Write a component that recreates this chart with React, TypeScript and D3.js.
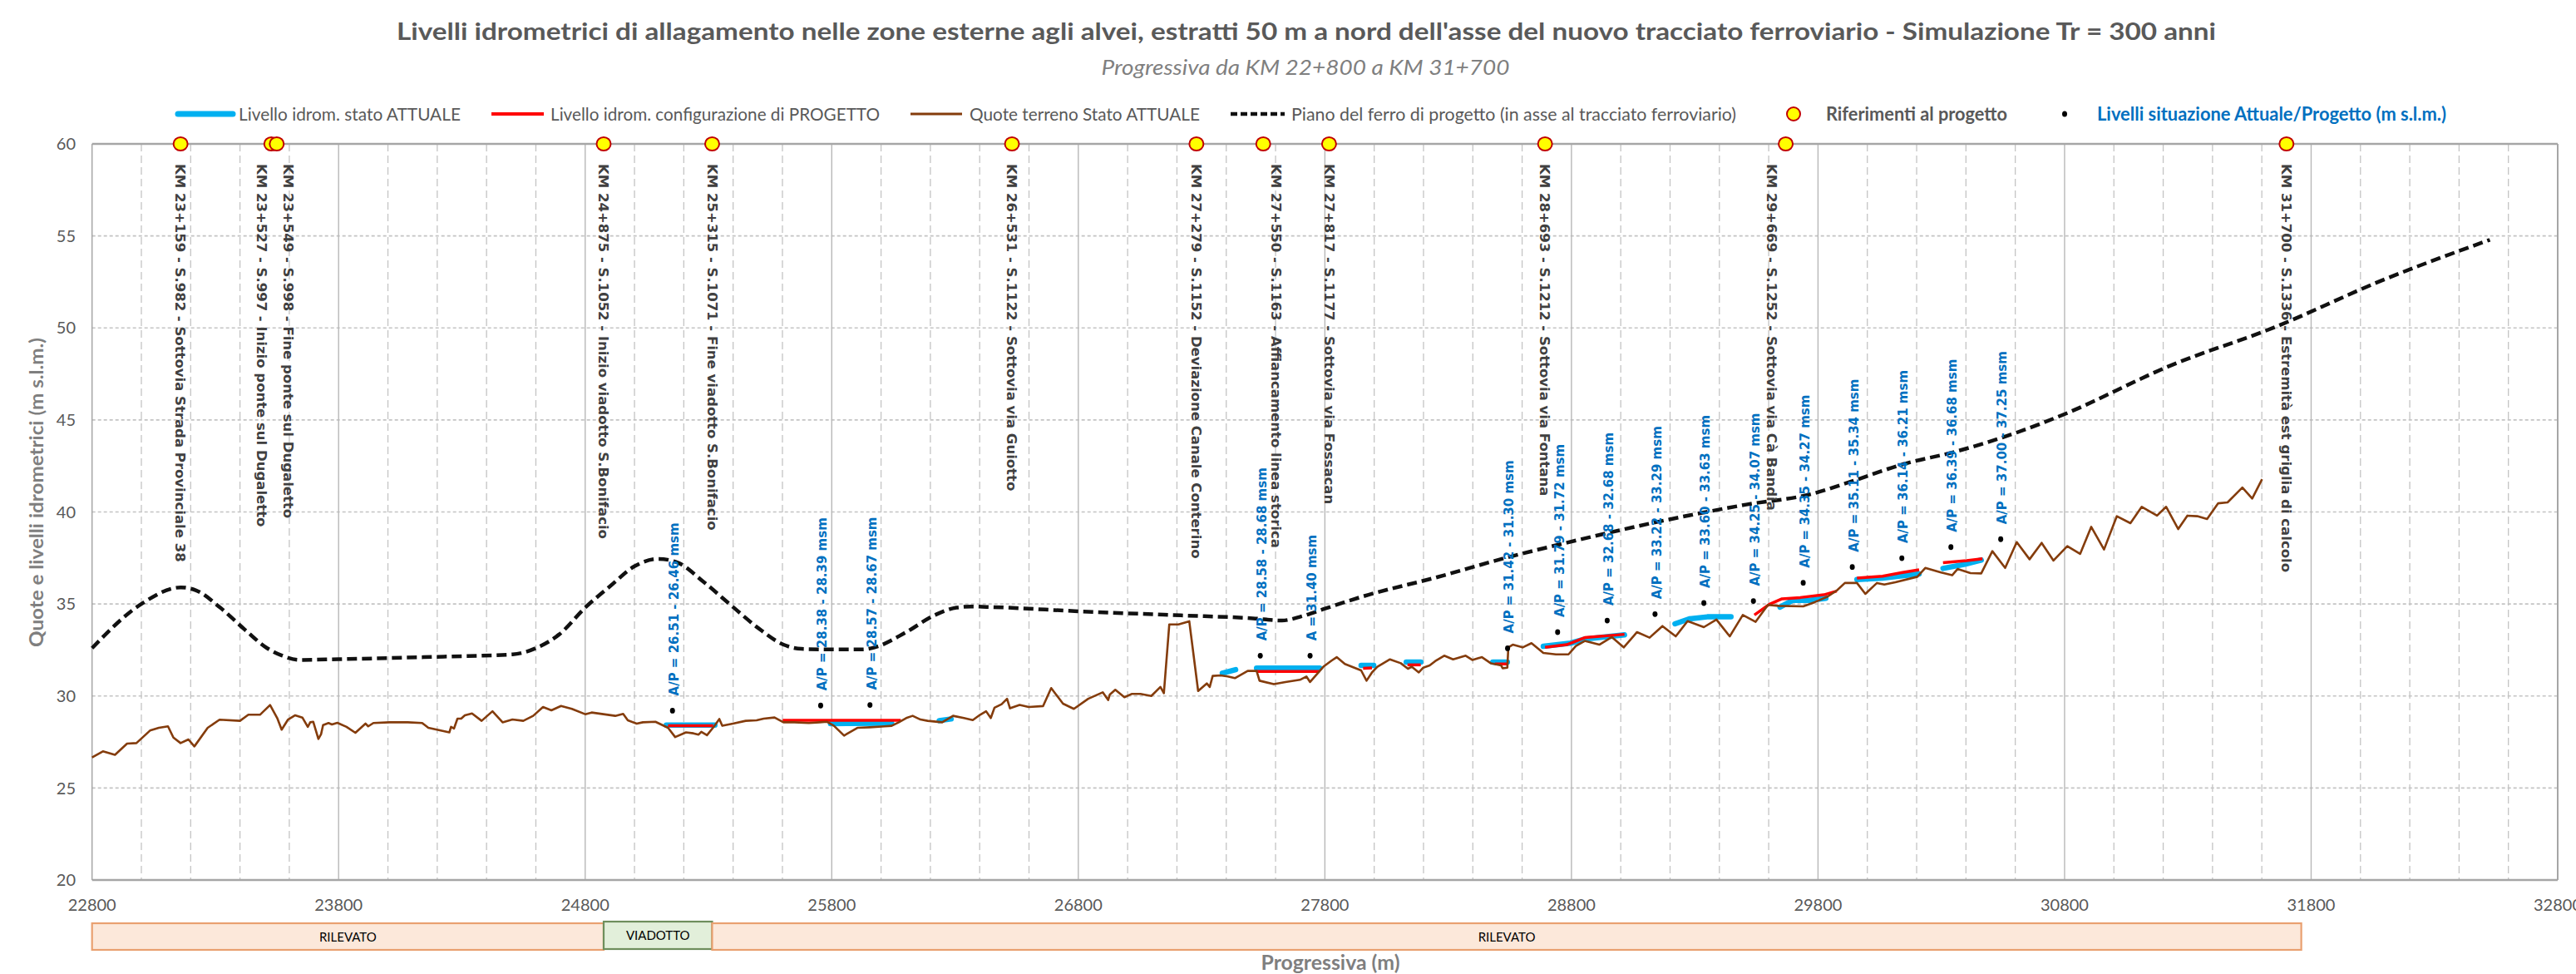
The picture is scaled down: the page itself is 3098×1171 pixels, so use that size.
import React from 'react';
import * as d3 from 'd3';

const W = 3098;
const H = 1171;
const PLOT = { left: 110.7, right: 3076, top: 173, bottom: 1058 };

const titleText =
  "Livelli idrometrici di allagamento nelle zone esterne agli alvei, estratti 50 m a nord dell'asse del nuovo tracciato ferroviario - Simulazione Tr = 300 anni";
const subtitleText = 'Progressiva da KM 22+800 a KM 31+700';
const yAxisTitle = 'Quote e livelli idrometrici (m s.l.m.)';
const xAxisTitle = 'Progressiva (m)';

const xDomain: [number, number] = [22800, 32800];
const yDomain: [number, number] = [20, 60];
const xTicks = [22800, 23800, 24800, 25800, 26800, 27800, 28800, 29800, 30800, 31800, 32800];
const yTicks = [20, 25, 30, 35, 40, 45, 50, 55, 60];

// Quote terreno Stato ATTUALE  [progressiva m, quota m s.l.m.]
const groundProfile: [number, number][] = [
  [22800, 26.66], [22844, 26.99], [22893, 26.8], [22942, 27.41], [22980, 27.44], [23035, 28.12], [23071, 28.27],
  [23108, 28.35], [23130, 27.74], [23159, 27.44], [23191, 27.64], [23215, 27.26], [23269, 28.27], [23317, 28.71],
  [23400, 28.65], [23434, 28.98], [23481, 28.98], [23522, 29.51], [23551, 28.8], [23569, 28.17], [23595, 28.72],
  [23624, 28.95], [23653, 28.83], [23675, 28.32], [23685, 28.57], [23697, 28.6], [23718, 27.67], [23729, 27.93],
  [23737, 28.42], [23759, 28.53], [23773, 28.45], [23795, 28.54], [23832, 28.32], [23868, 28.0], [23909, 28.5],
  [23920, 28.35], [23941, 28.53], [24007, 28.57], [24080, 28.57], [24139, 28.53], [24164, 28.27], [24249, 28.02],
  [24256, 28.32], [24268, 28.23], [24282, 28.77], [24297, 28.77], [24312, 28.95], [24341, 29.05], [24380, 28.65],
  [24424, 29.17], [24465, 28.57], [24505, 28.72], [24549, 28.65], [24589, 28.92], [24629, 29.4], [24663, 29.22],
  [24702, 29.46], [24746, 29.3], [24800, 29.01], [24826, 29.1], [24922, 28.92], [24954, 29.03], [24973, 28.68],
  [25009, 28.5], [25034, 28.57], [25085, 28.6], [25136, 28.27], [25165, 27.77], [25209, 28.02], [25239, 27.97],
  [25260, 27.9], [25271, 28.05], [25294, 27.87], [25323, 28.35], [25344, 28.75], [25356, 28.38], [25399, 28.5],
  [25451, 28.65], [25495, 28.68], [25524, 28.77], [25568, 28.83], [25604, 28.57], [25648, 28.57], [25707, 28.53],
  [25751, 28.57], [25780, 28.6], [25809, 28.38], [25850, 27.85], [25904, 28.27], [25955, 28.3], [26014, 28.35],
  [26043, 28.38], [26072, 28.57], [26102, 28.8], [26128, 28.92], [26160, 28.72], [26189, 28.65], [26248, 28.57],
  [26292, 28.92], [26336, 28.8], [26372, 28.69], [26402, 28.98], [26426, 29.17], [26445, 28.8], [26460, 29.36],
  [26489, 29.55], [26511, 29.85], [26523, 29.33], [26562, 29.51], [26599, 29.4], [26657, 29.45], [26690, 30.43],
  [26738, 29.58], [26782, 29.3], [26840, 29.85], [26899, 30.2], [26921, 29.78], [26928, 30.08], [26950, 30.34],
  [26987, 29.93], [27016, 30.11], [27052, 30.11], [27096, 30.0], [27133, 30.49], [27147, 30.15], [27169, 33.89],
  [27206, 33.89], [27250, 34.06], [27286, 30.27], [27321, 30.68], [27333, 30.49], [27345, 31.09], [27377, 31.12],
  [27406, 31.06], [27435, 30.97], [27487, 31.36], [27523, 31.36], [27535, 30.83], [27593, 30.64], [27640, 30.76],
  [27699, 30.88], [27725, 31.06], [27740, 30.76], [27794, 31.59], [27827, 31.92], [27848, 32.11], [27881, 31.74],
  [27947, 31.39], [27969, 30.83], [27991, 31.28], [28013, 31.59], [28064, 31.99], [28108, 31.78], [28137, 31.48],
  [28152, 31.59], [28181, 31.28], [28199, 31.54], [28225, 31.66], [28247, 31.89], [28284, 32.19], [28320, 31.99],
  [28371, 32.19], [28398, 31.96], [28437, 32.11], [28474, 31.77], [28515, 31.66], [28521, 31.51], [28540, 31.54],
  [28544, 32.64], [28562, 32.79], [28602, 32.64], [28638, 32.87], [28686, 32.34], [28737, 32.26], [28788, 32.26],
  [28818, 32.72], [28854, 32.99], [28913, 32.79], [28964, 33.2], [29012, 32.64], [29066, 33.47], [29117, 33.17],
  [29169, 33.8], [29223, 33.24], [29271, 34.07], [29337, 33.74], [29388, 34.15], [29442, 33.24], [29495, 34.4],
  [29547, 34.03], [29597, 34.95], [29639, 34.9], [29740, 34.87], [29787, 35.1], [29839, 35.4], [29876, 35.73],
  [29909, 36.14], [29958, 36.14], [29992, 35.55], [30039, 36.14], [30069, 36.06], [30114, 36.18], [30203, 36.48],
  [30235, 36.96], [30299, 36.71], [30344, 36.56], [30366, 36.9], [30418, 36.68], [30462, 36.66], [30507, 37.87],
  [30559, 36.96], [30606, 38.36], [30658, 37.43], [30707, 38.32], [30755, 37.36], [30811, 38.14], [30863, 37.72],
  [30908, 39.19], [30960, 37.96], [31012, 39.77], [31067, 39.39], [31113, 40.28], [31175, 39.8], [31212, 40.28],
  [31261, 39.07], [31298, 39.8], [31338, 39.77], [31378, 39.62], [31423, 40.47], [31461, 40.52], [31521, 41.33],
  [31561, 40.73], [31601, 41.78],
];

// Piano del ferro di progetto
const ferroProfile: [number, number][] = [
  [22800, 32.6], [23000, 35.0], [23160, 35.9], [23220, 35.75], [23320, 34.8], [23420, 33.6], [23510, 32.6],
  [23570, 32.2], [23642, 31.96], [23800, 32.0], [24227, 32.14], [24505, 32.26], [24607, 32.64], [24695, 33.35],
  [24800, 34.8], [24904, 36.0], [25000, 37.05], [25098, 37.45], [25175, 37.25], [25282, 36.18], [25400, 34.83],
  [25502, 33.69], [25604, 32.79], [25677, 32.56], [25809, 32.53], [25926, 32.53], [25985, 32.69], [26102, 33.47],
  [26219, 34.4], [26306, 34.8], [26365, 34.86], [26453, 34.83], [26804, 34.6], [27216, 34.38], [27508, 34.22],
  [27626, 34.1], [27699, 34.3], [27801, 34.75], [27977, 35.5], [28240, 36.4], [28532, 37.5], [28825, 38.47],
  [29118, 39.37], [29509, 40.4], [29772, 40.97], [29945, 41.7], [30146, 42.6], [30350, 43.25], [30603, 44.3],
  [30797, 45.3], [31227, 47.94], [31656, 50.06], [32085, 52.57], [32525, 54.79],
];

// Livello idrom. stato ATTUALE (tratti)
const attualeSegments: [number, number][][] = [
  [[25129, 28.42], [25326, 28.42]],
  [[25795, 28.5], [26043, 28.52]],
  [[26236, 28.66], [26284, 28.75]],
  [[27384, 31.24], [27438, 31.43]],
  [[27523, 31.51], [27779, 31.51]],
  [[27947, 31.66], [27998, 31.66]],
  [[28130, 31.84], [28189, 31.84]],
  [[28481, 31.84], [28540, 31.84]],
  [[28686, 32.7], [28796, 32.87], [28854, 33.09], [29015, 33.32]],
  [[29220, 33.92], [29278, 34.19], [29351, 34.3], [29447, 34.3]],
  [[29646, 34.83], [29698, 35.2], [29765, 35.2], [29832, 35.31]],
  [[29958, 36.33], [30062, 36.41], [30210, 36.63]],
  [[30307, 36.93], [30396, 37.16], [30462, 37.39]],
];

// Livello idrom. configurazione di PROGETTO (tratti)
const progettoSegments: [number, number][][] = [
  [[25136, 28.38], [25319, 28.38]],
  [[25601, 28.68], [26080, 28.68]],
  [[27523, 31.33], [27779, 31.33]],
  [[27955, 31.5], [27991, 31.52]],
  [[28135, 31.69], [28189, 31.69]],
  [[28489, 31.74], [28540, 31.74]],
  [[28693, 32.64], [28781, 32.79], [28854, 33.17], [29015, 33.35]],
  [[29542, 34.4], [29602, 34.98], [29654, 35.28], [29728, 35.35], [29824, 35.5], [29876, 35.7]],
  [[29958, 36.41], [30062, 36.51], [30143, 36.71], [30210, 36.86]],
  [[30307, 37.24], [30403, 37.36], [30467, 37.46]],
];

// Livelli situazione Attuale/Progetto (punti + etichette)
const levelKm = [25154, 25755, 25955, 27538, 27740, 28541, 28744, 28945, 29139, 29337, 29538, 29740, 29939, 30140, 30339, 30541];
const levelZ = [29.2, 29.48, 29.51, 32.19, 32.19, 32.59, 33.47, 34.1, 34.45, 35.05, 35.16, 36.15, 37.01, 37.49, 38.09, 38.52];
const levelLabels = [
  'A/P = 26.51 - 26.46 msm',
  'A/P = 28.38 - 28.39 msm',
  'A/P = 28.57 - 28.67 msm',
  'A/P = 28.58 - 28.68 msm',
  'A = 31.40 msm',
  'A/P = 31.42 - 31.30 msm',
  'A/P = 31.79 - 31.72 msm',
  'A/P = 32.68 - 32.68 msm',
  'A/P = 33.22 - 33.29 msm',
  'A/P = 33.60 - 33.63 msm',
  'A/P = 34.25 - 34.07 msm',
  'A/P = 34.35 - 34.27 msm',
  'A/P = 35.11 - 35.34 msm',
  'A/P = 36.14 - 36.21 msm',
  'A/P = 36.39 - 36.68 msm',
  'A/P = 37.00 - 37.25 msm',
];

// Riferimenti al progetto
const refKm = [23159, 23527, 23549, 24875, 25315, 26531, 27279, 27550, 27817, 28693, 29669, 31700];
const refZ = 60;
const refLabels = [
  'KM 23+159 - S.982 - Sottovia Strada Provinciale 38',
  'KM 23+527 - S.997 - Inizio ponte sul Dugaletto',
  'KM 23+549 - S.998 - Fine ponte sul Dugaletto',
  'KM 24+875 - S.1052 - Inizio viadotto S.Bonifacio',
  'KM 25+315 - S.1071 - Fine viadotto S.Bonifacio',
  'KM 26+531 - S.1122 - Sottovia via Guiotto',
  'KM 27+279 - S.1152 - Deviazione Canale Conterino',
  'KM 27+550 - S.1163 - Affiancamento linea storica',
  'KM 27+817 - S.1177 - Sottovia via Fossacan',
  'KM 28+693 - S.1212 - Sottovia via Fontana',
  'KM 29+669 - S.1252 - Sottovia via Cà Bandia',
  'KM 31+700 - S.1336 - Estremità est griglia di calcolo',
];
const refLabelNudge = [0, -11.5, 14, 0, 0, 0, 0, 16, 0, 0, -17, 0];

// Tipologia opera
const sectionNames = ['RILEVATO', 'VIADOTTO', 'RILEVATO'];
const sectionFrom = [22800, 24875, 25315];
const sectionTo = [24875, 25315, 31760];

const SANS = "Lato, 'Open Sans', 'Liberation Sans', sans-serif";
const DEJAVU = "'DejaVu Sans', Verdana, sans-serif";

export default function App() {
  React.useEffect(() => {
    document.body.style.margin = '0';
    document.body.style.overflow = 'hidden';
  }, []);

  const x = d3.scaleLinear().domain(xDomain).range([PLOT.left, PLOT.right]);
  const y = d3.scaleLinear().domain(yDomain).range([PLOT.bottom, PLOT.top]);

  const straight = d3
    .line<[number, number]>()
    .x((d) => x(d[0]))
    .y((d) => y(d[1]));
  const smooth = d3
    .line<[number, number]>()
    .x((d) => x(d[0]))
    .y((d) => y(d[1]))
    .curve(d3.curveMonotoneX);

  const minorX = d3.range(22800, 32800, 200).filter((v) => (v - 22800) % 1000 !== 0);
  const majorX = xTicks.filter((v) => v > 22800 && v < 32800);
  const gridY = yTicks.filter((v) => v > 20 && v < 60);

  const legendY = 137;

  return (
    <svg
      width={W}
      height={H}
      viewBox={`0 0 ${W} ${H}`}
      style={{ position: 'absolute', left: 0, top: 0, background: '#fff' }}
    >
      <rect x={0} y={0} width={W} height={H} fill="#fff" />

      {/* Titles */}
      <text x={1571} y={48} textAnchor="middle" fontFamily={SANS} fontWeight={700} fontSize={28} fill="#595959" textLength={2188} lengthAdjust="spacingAndGlyphs">
        {titleText}
      </text>
      <text x={1570} y={90} textAnchor="middle" fontFamily={SANS} fontStyle="italic" fontSize={25} fill="#7f7f7f" textLength={491} lengthAdjust="spacingAndGlyphs">
        {subtitleText}
      </text>

      {/* Legend */}
      <g fontFamily={SANS} fontSize={22} fill="#595959">
        <line x1={214} x2={280} y1={legendY} y2={legendY} stroke="#00B0F0" strokeWidth={7} strokeLinecap="round" />
        <text x={287} y={145} textLength={267} lengthAdjust="spacingAndGlyphs">Livello idrom. stato ATTUALE</text>
        <line x1={591} x2={654} y1={legendY} y2={legendY} stroke="#FF0000" strokeWidth={4} />
        <text x={662} y={145} textLength={396} lengthAdjust="spacingAndGlyphs">Livello idrom. configurazione di PROGETTO</text>
        <line x1={1095} x2={1157} y1={legendY} y2={legendY} stroke="#843C0C" strokeWidth={3} />
        <text x={1166} y={145} textLength={277} lengthAdjust="spacingAndGlyphs">Quote terreno Stato ATTUALE</text>
        <line x1={1480} x2={1545} y1={legendY} y2={legendY} stroke="#111" strokeWidth={4.5} strokeDasharray="8 4" />
        <text x={1553} y={145} textLength={535} lengthAdjust="spacingAndGlyphs">Piano del ferro di progetto (in asse al tracciato ferroviario)</text>
        <ellipse cx={2157} cy={legendY} rx={8} ry={8} fill="#FFFF00" stroke="#C00000" strokeWidth={2} />
        <text x={2196} y={145} fontWeight={700} textLength={218} lengthAdjust="spacingAndGlyphs">Riferimenti al progetto</text>
        <ellipse cx={2483} cy={legendY} rx={3} ry={3.5} fill="#000" />
        <text x={2522} y={145} fontWeight={700} fill="#0070C0" textLength={420} lengthAdjust="spacingAndGlyphs">Livelli situazione Attuale/Progetto (m s.l.m.)</text>
      </g>

      {/* Grid */}
      <g>
        {minorX.map((v) => (
          <line key={'mx' + v} x1={x(v)} x2={x(v)} y1={PLOT.top} y2={PLOT.bottom} stroke="#c4c4c4" strokeWidth={1.3} strokeDasharray="9 5" />
        ))}
        {gridY.map((v) => (
          <line key={'gy' + v} x1={PLOT.left} x2={PLOT.right} y1={y(v)} y2={y(v)} stroke="#c4c4c4" strokeWidth={1.6} strokeDasharray="4 3" />
        ))}
        {majorX.map((v) => (
          <line key={'Mx' + v} x1={x(v)} x2={x(v)} y1={PLOT.top} y2={PLOT.bottom} stroke="#b8b8b8" strokeWidth={1.4} />
        ))}
        <line x1={PLOT.left} x2={PLOT.left} y1={PLOT.top} y2={PLOT.bottom} stroke="#a6a6a6" strokeWidth={1.5} />
        <line x1={PLOT.right} x2={PLOT.right} y1={PLOT.top} y2={PLOT.bottom} stroke="#a6a6a6" strokeWidth={2} />
        <line x1={PLOT.left} x2={PLOT.right} y1={PLOT.top} y2={PLOT.top} stroke="#a6a6a6" strokeWidth={2.5} />
        <line x1={PLOT.left} x2={PLOT.right} y1={PLOT.bottom} y2={PLOT.bottom} stroke="#a6a6a6" strokeWidth={2.5} />
      </g>

      {/* Axis ticks */}
      <g fontFamily={SANS} fontSize={20} fill="#595959">
        {yTicks.map((v) => (
          <text key={'yt' + v} x={91} y={y(v)} dy="0.36em" textAnchor="end">{v}</text>
        ))}
        {xTicks.map((v) => (
          <text key={'xt' + v} x={x(v)} y={1095} textAnchor="middle">{v}</text>
        ))}
      </g>

      {/* Axis titles */}
      <text transform="translate(52,592) rotate(-90)" textAnchor="middle" fontFamily={SANS} fontWeight={700} fontSize={22} fill="#7f7f7f" textLength={372} lengthAdjust="spacingAndGlyphs">
        {yAxisTitle}
      </text>
      <text x={1600} y={1166} textAnchor="middle" fontFamily={SANS} fontWeight={700} fontSize={24} fill="#7f7f7f" textLength={167} lengthAdjust="spacingAndGlyphs">
        {xAxisTitle}
      </text>

      {/* Sections bar */}
      <g fontFamily={SANS} fontSize={15} fill="#000">
        {sectionNames.map((n, i) => {
          const via = n === 'VIADOTTO';
          const x0 = x(sectionFrom[i]);
          const x1 = x(sectionTo[i]);
          return (
            <g key={'sec' + i}>
              <rect
                x={x0}
                y={via ? 1108 : 1110}
                width={x1 - x0}
                height={via ? 33 : 32}
                fill={via ? '#E2EFDA' : '#FCE8DA'}
                stroke={via ? '#6E8E5C' : '#E9A070'}
                strokeWidth={2.2}
              />
              <text x={(x0 + x1) / 2} y={via ? 1125 : 1127} dy="0.35em" textAnchor="middle">{n}</text>
            </g>
          );
        })}
      </g>

      {/* Water levels */}
      <g fill="none">
        {attualeSegments.map((s, i) => (
          <path key={'a' + i} d={straight(s) || ''} stroke="#00B0F0" strokeWidth={6.5} strokeLinecap="round" strokeLinejoin="round" />
        ))}
        {progettoSegments.map((s, i) => (
          <path key={'p' + i} d={straight(s) || ''} stroke="#FF0000" strokeWidth={3.5} strokeLinejoin="round" />
        ))}
      </g>

      {/* Ground */}
      <path d={straight(groundProfile) || ''} fill="none" stroke="#843C0C" strokeWidth={2.6} strokeLinejoin="round" />

      {/* Piano del ferro */}
      <path d={smooth(ferroProfile) || ''} fill="none" stroke="#111" strokeWidth={4.5} strokeDasharray="12 6" />

      {/* Level points and labels */}
      <g>
        {levelKm.map((k, i) => (
          <ellipse key={'d' + i} cx={x(k)} cy={y(levelZ[i])} rx={3} ry={3.4} fill="#000" />
        ))}
        {levelKm.map((k, i) => (
          <text
            key={'dl' + i}
            transform={`translate(${x(k) + 2},${y(levelZ[i]) - 18}) rotate(-90)`}
            dy="0.35em"
            fontFamily={DEJAVU}
            fontWeight={700}
            fontSize={15}
            fill="#0070C0"
          >
            {levelLabels[i]}
          </text>
        ))}
      </g>

      {/* Reference markers and labels */}
      <g>
        {refKm.map((k, i) => (
          <text
            key={'rl' + i}
            transform={`translate(${x(k) + refLabelNudge[i]},197) rotate(90)`}
            dy="0.35em"
            fontFamily={DEJAVU}
            fontWeight={700}
            fontSize={16.5}
            fill="#404040"
          >
            {refLabels[i]}
          </text>
        ))}
        {refKm.map((k, i) => (
          <ellipse key={'r' + i} cx={x(k)} cy={y(refZ)} rx={8.5} ry={8} fill="#FFFF00" stroke="#C00000" strokeWidth={2} />
        ))}
      </g>
    </svg>
  );
}
